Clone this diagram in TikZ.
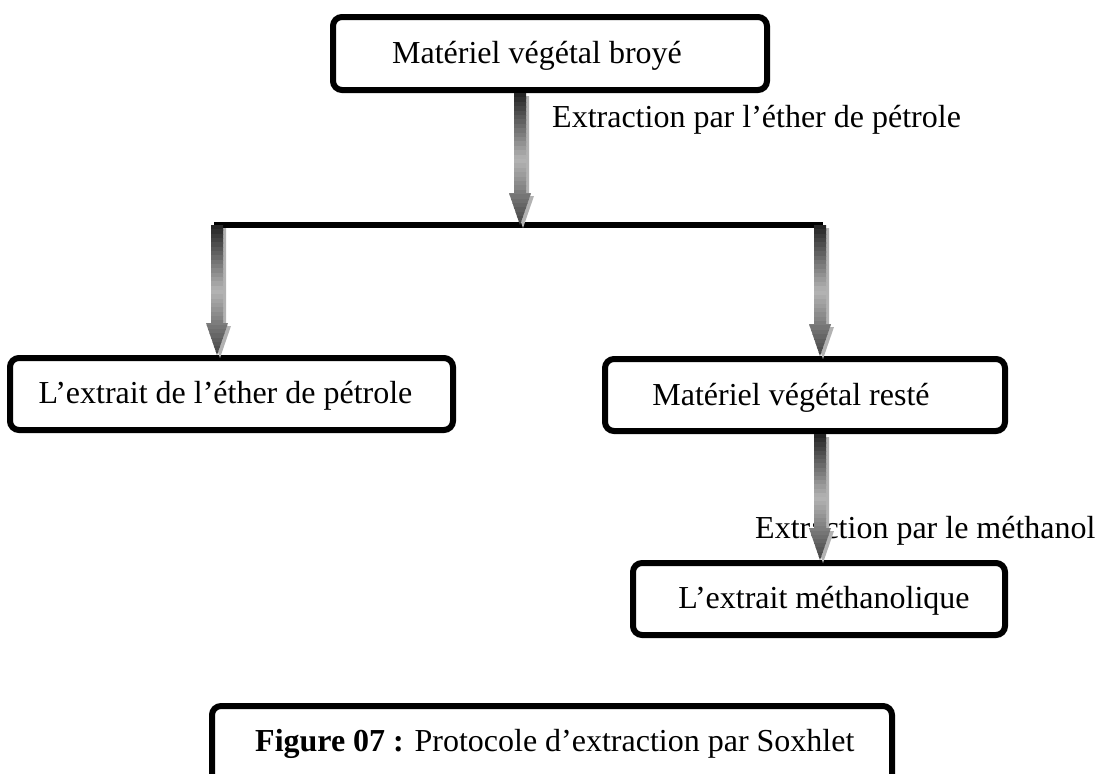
\documentclass[tikz,border=0pt]{standalone}
\usepackage{fontspec}
\setmainfont{Liberation Serif}
\usetikzlibrary{calc}
\begin{document}
\begin{tikzpicture}[x=1pt,y=-1pt,
  box/.style={draw=black, line width=6pt, rounded corners=9pt, fill=white, inner sep=0pt},
  txt/.style={font=\fontsize{32}{38}\selectfont, inner sep=0pt, anchor=base},
  lbl/.style={font=\fontsize{32}{38}\selectfont, inner sep=0pt, anchor=base west},
  joinline/.style={line width=6pt, black}
]
\useasboundingbox (0,0) rectangle (1096,774);
\newcommand\fatarrow[2]{%
  \fill[black!30] ([xshift=-3pt,yshift=-3pt]#1) -- ([xshift=-3pt,yshift=29pt]#2) -- ([xshift=-8pt,yshift=29pt]#2) -- ([xshift=3pt,yshift=-3pt]#2) -- ([xshift=14pt,yshift=29pt]#2) -- ([xshift=9pt,yshift=29pt]#2) -- ([xshift=9pt,yshift=-3pt]#1) -- cycle;
  \begin{scope}
  \clip ([xshift=-6pt]#1) -- ([xshift=-6pt,yshift=32pt]#2) -- ([xshift=-11pt,yshift=32pt]#2) -- (#2) -- ([xshift=11pt,yshift=32pt]#2) -- ([xshift=6pt,yshift=32pt]#2) -- ([xshift=6pt]#1) -- cycle;
  \foreach \i in {0,...,29}{%
    \pgfmathsetmacro\cc{\i<15 ? 85-3.8*\i : 30+3*(\i-15)}%
    \pgfmathsetmacro\ta{\i/30}%
    \pgfmathsetmacro\tb{(\i+1.3)/30}%
    \fill[black!\cc] ($(#1)!\ta!(#2)+(-12,0)$) rectangle ($(#1)!\tb!(#2)+(12,0)$);
  }
  \end{scope}
}
% boxes
\node[box, minimum width=434pt, minimum height=73pt] (b1) at (550,53.5) {};
\node[box, minimum width=443pt, minimum height=72pt] (b2) at (231.5,394) {};
\node[box, minimum width=400pt, minimum height=72pt] (b3) at (805,395) {};
\node[box, minimum width=372pt, minimum height=72pt] (b4) at (819,599) {};
\node[box, minimum width=680pt, minimum height=100pt] (b5) at (552,756) {};
% texts
\node[txt] (t1) at ([xshift=-13pt,yshift=-10pt]b1.center) {Matériel végétal broyé};
\node[txt] (t2) at ([xshift=-6pt,yshift=-9pt]b2.center) {L’extrait de l’éther de pétrole};
\node[txt] (t3) at ([xshift=-14pt,yshift=-10pt]b3.center) {Matériel végétal resté};
\node[txt] (t4) at ([xshift=5pt,yshift=-9pt]b4.center) {L’extrait méthanolique};
\node[lbl] (cap) at (255,751) {\textbf{Figure 07 :} Protocole d’extraction par Soxhlet};
% labels
\node[lbl] (l1) at (552,127) {Extraction par l’éther de pétrole};
\node[lbl] (l2) at (755,538) {Extraction par le méthanol};
% junction
\coordinate (jl) at (217,225);
\coordinate (jm) at (520,225);
\coordinate (jr) at (820,225);
\draw[joinline] ([xshift=-3pt]jl) -- ([xshift=3pt]jr);
% arrows
\coordinate (a1s) at (jm |- b1.south);
\fatarrow{a1s}{jm}
\coordinate (a2e) at (jl |- b2.north);
\fatarrow{jl}{a2e}
\coordinate (a3e) at (jr |- b3.north);
\fatarrow{jr}{a3e}
\coordinate (a4s) at (jr |- b3.south);
\coordinate (a4e) at (jr |- b4.north);
\fatarrow{a4s}{a4e}
\end{tikzpicture}
\end{document}
